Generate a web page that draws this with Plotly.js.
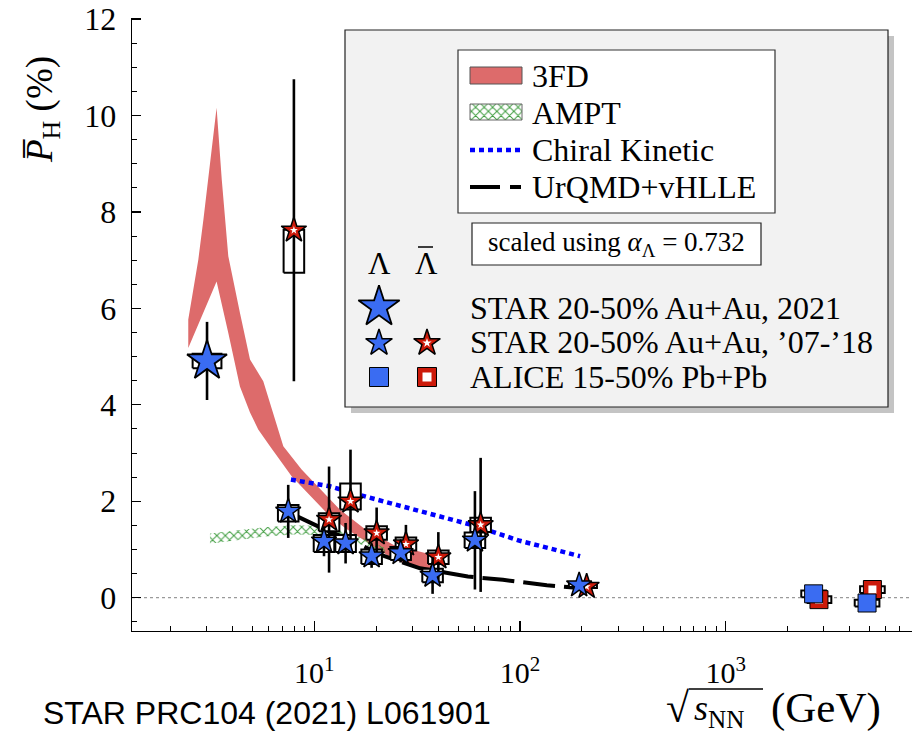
<!DOCTYPE html>
<html><head><meta charset="utf-8">
<script src="https://cdn.plot.ly/plotly-3.0.1.min.js"></script>
<style>html,body{margin:0;padding:0;background:#fff}</style>
</head><body><div id="chart" style="width:912px;height:732px"></div>
<script>
// ---------------- data ----------------
// STAR 2021 (3 GeV) Lambda
const star2021X = [3.01];
const star2021Y = [4.91];
const star2021Err = [0.81];
const star2021SysLo = [4.76];
const star2021SysHi = [5.06];
// STAR '07-'18 Lambda
const lamX = [7.47, 11.15, 14.2, 19.0, 26.3, 37.6, 60.4, 194];
const lamY = [1.79, 1.17, 1.13, 0.86, 0.93, 0.46, 1.19, 0.26];
const lamErr = [0.55, 0.31, 0.42, 0.24, 0.2, 0.38, 1.02, 0.05];
const lamSysLo = [1.58, 0.95, 0.95, 0.70, 0.78, 0.32, 1.03, 0.22];
const lamSysHi = [1.92, 1.30, 1.30, 1.00, 1.05, 0.60, 1.35, 0.30];
// STAR '07-'18 anti-Lambda
const alamX = [7.96, 11.8, 15.0, 20.1, 27.9, 40.1, 64.4, 211];
const alamY = [7.62, 1.62, 2.0, 1.34, 1.11, 0.84, 1.51, 0.23];
const alamErr = [3.13, 1.1, 1.07, 0.53, 0.4, 0.52, 1.39, 0.06];
const alamSysLo = [6.74, 1.38, 1.83, 1.20, 0.98, 0.70, 1.36, 0.20];
const alamSysHi = [7.63, 1.75, 2.37, 1.48, 1.25, 0.98, 1.66, 0.27];
// ALICE
const aliceLamX = [2677, 4870];
const aliceLamY = [0.08, -0.11];
const aliceAlamX = [2843, 5170];
const aliceAlamY = [-0.04, 0.17];
const aliceErr = [0.03, 0.03];
const aliceSys = [0.07, 0.07];
// 3FD band
const fdUpX = [2.44, 2.73, 2.89, 3.17, 3.35, 3.55, 3.82, 4.35, 4.87, 5.65, 6.21, 7.07, 8.68, 10.66, 13.3, 17.3, 24.2, 36.5];
const fdUpY = [5.77, 7.01, 7.84, 9.35, 10.16, 8.67, 7.08, 5.91, 4.94, 4.49, 3.90, 3.14, 2.66, 2.25, 1.83, 1.45, 1.10, 0.90];
const fdLoX = [2.44, 3.35, 3.82, 4.35, 4.87, 5.34, 6.09, 7.76, 9.53, 11.9, 14.4, 24.2, 36.5];
const fdLoY = [5.18, 6.56, 5.49, 4.38, 3.84, 3.49, 3.14, 2.52, 2.11, 1.69, 1.42, 0.80, 0.50];
// AMPT band
const amptX = [3.11, 4.35, 5.76, 7.88, 10.9, 14.1, 17.6, 22.1];
const amptHi = [1.33, 1.40, 1.46, 1.50, 1.49, 1.36, 1.22, 1.03];
const amptLo = [1.12, 1.20, 1.27, 1.31, 1.30, 1.20, 1.08, 0.92];
// Chiral Kinetic
const ckX = [7.7, 11.9, 17.3, 32.7, 57, 100, 196];
const ckY = [2.45, 2.31, 2.11, 1.80, 1.52, 1.18, 0.86];
// UrQMD+vHLLE
const uqX = [7.6, 11.7, 14.1, 21.6, 32.7, 55.8, 82.6, 135, 194];
const uqY = [1.76, 1.38, 1.25, 0.87, 0.61, 0.44, 0.37, 0.26, 0.20];
// ticks
const xTickVals = [10, 100, 1000];
const xTickText = ['10<sup>1</sup>', '10<sup>2</sup>', '10<sup>3</sup>'];

// ---------------- helpers ----------------
const FONT = "'Liberation Serif', serif";
const SANS = "'Liberation Sans', sans-serif";
const L = 132, T = 18, PW = 780, PH = 613;
const pxX = v => (v - L) / PW;
const pxY = v => (T + PH - v) / PH;
const BLUE = '#3a6cf2', RED = '#cc1a0a', BAND = '#dd6b6b', GREEN = '#3f9c3f';

function boxes(xs, lo, hi, hw) {
  const X = [], Y = [];
  xs.forEach((x, i) => {
    const a = x * Math.pow(10, -hw), b = x * Math.pow(10, hw);
    X.push(a, b, b, a, a, null);
    Y.push(lo[i], lo[i], hi[i], hi[i], lo[i], null);
  });
  return {X, Y};
}
const minorX = [];
[1, 10, 100, 1000].forEach(d => { for (let m = 2; m <= 9; m++) minorX.push(m * d); });

const bxLam = boxes(lamX, lamSysLo, lamSysHi, 0.05);
const bxAlam = boxes(alamX, alamSysLo, alamSysHi, 0.05);
const bx21 = boxes(star2021X, star2021SysLo, star2021SysHi, 0.07);
const bxAl1 = boxes(aliceLamX, aliceLamY.map((v,i)=>v-aliceSys[i]), aliceLamY.map((v,i)=>v+aliceSys[i]), 0.06);
const bxAl2 = boxes(aliceAlamX, aliceAlamY.map((v,i)=>v-aliceSys[i]), aliceAlamY.map((v,i)=>v+aliceSys[i]), 0.06);

const traces = [];
// 3FD band
traces.push({x: fdUpX.concat(fdLoX.slice().reverse()), y: fdUpY.concat(fdLoY.slice().reverse()),
  mode: 'lines', fill: 'toself', fillcolor: BAND, line: {width: 0, color: BAND}, hoverinfo: 'skip'});
// AMPT band
traces.push({x: amptX.concat(amptX.slice().reverse()), y: amptHi.concat(amptLo.slice().reverse()),
  mode: 'lines', fill: 'toself', fillcolor: 'rgba(255,255,255,0)',
  fillpattern: {shape: 'x', fgcolor: GREEN, bgcolor: 'rgba(255,255,255,0)', size: 6, solidity: 0.3},
  line: {width: 0, color: GREEN}});
// Chiral Kinetic
traces.push({x: ckX, y: ckY, mode: 'lines', line: {color: '#0000ff', width: 4.5, dash: '5px,4px'}});
// UrQMD
traces.push({x: uqX, y: uqY, mode: 'lines', line: {color: '#000', width: 4, dash: '32px,9px'}});
// boxes
[bx21, bxAlam, bxLam, bxAl2, bxAl1].forEach(b => traces.push({x: b.X, y: b.Y, mode: 'lines', fill: 'toself',
  fillcolor: '#fff', line: {color: '#000', width: 2}, connectgaps: false}));
// anti-Lambda stars
traces.push({x: alamX, y: alamY, mode: 'markers',
  error_y: {type: 'data', array: alamErr, color: '#000', thickness: 2.6, width: 0},
  marker: {symbol: 'star', size: 19, color: RED, line: {color: '#000', width: 1.5}}});
traces.push({x: alamX, y: alamY, mode: 'markers', marker: {symbol: 'star', size: 6, color: '#fff', line: {width: 0}}});
// Lambda stars
traces.push({x: lamX, y: lamY, mode: 'markers',
  error_y: {type: 'data', array: lamErr, color: '#000', thickness: 2.6, width: 0},
  marker: {symbol: 'star', size: 19, color: BLUE, line: {color: '#000', width: 1.5}}});
// STAR 2021
traces.push({x: star2021X, y: star2021Y, mode: 'markers',
  error_y: {type: 'data', array: star2021Err, color: '#000', thickness: 2.6, width: 0},
  marker: {symbol: 'star', size: 30, color: BLUE, line: {color: '#000', width: 1.8}}});
// ALICE
traces.push({x: aliceAlamX, y: aliceAlamY, mode: 'markers',
  error_y: {type: 'data', array: aliceErr, color: '#000', thickness: 2, width: 0},
  marker: {symbol: 'square', size: 18, color: RED, line: {color: '#000', width: 1}}});
traces.push({x: aliceAlamX, y: aliceAlamY, mode: 'markers', marker: {symbol: 'square', size: 8, color: '#fff', line: {width: 0}}});
traces.push({x: aliceLamX, y: aliceLamY, mode: 'markers',
  error_y: {type: 'data', array: aliceErr, color: '#000', thickness: 2, width: 0},
  marker: {symbol: 'square', size: 18, color: BLUE, line: {color: '#000', width: 1}}});

// ---------- legend glyphs (pixel space overlay axes) ----------
const lg = {xaxis: 'x2', yaxis: 'y2', hoverinfo: 'skip'};
traces.push(Object.assign({x: [470, 522, 522, 470, 470], y: [104, 104, 120, 120, 104], mode: 'lines', fill: 'toself',
  fillcolor: 'rgba(255,255,255,1)', fillpattern: {shape: 'x', fgcolor: GREEN, bgcolor: '#fff', size: 6, solidity: 0.3},
  line: {color: '#666', width: 1}}, lg));
traces.push(Object.assign({x: [470, 521], y: [150, 150], mode: 'lines', line: {color: '#0000ff', width: 4.5, dash: '5px,4px'}}, lg));
traces.push(Object.assign({x: [470, 521], y: [187, 187], mode: 'lines', line: {color: '#000', width: 4, dash: '30px,10px,11px,10px'}}, lg));
traces.push(Object.assign({x: [379], y: [307], mode: 'markers', marker: {symbol: 'star', size: 31, color: BLUE, line: {color: '#000', width: 1.8}}}, lg));
traces.push(Object.assign({x: [379], y: [343], mode: 'markers', marker: {symbol: 'star', size: 20, color: BLUE, line: {color: '#000', width: 1.5}}}, lg));
traces.push(Object.assign({x: [427], y: [343], mode: 'markers', marker: {symbol: 'star', size: 20, color: RED, line: {color: '#000', width: 1.5}}}, lg));
traces.push(Object.assign({x: [427], y: [343], mode: 'markers', marker: {symbol: 'star', size: 7, color: '#fff', line: {width: 0}}}, lg));
traces.push(Object.assign({x: [379], y: [377], mode: 'markers', marker: {symbol: 'square', size: 19, color: BLUE, line: {color: '#000', width: 1}}}, lg));
traces.push(Object.assign({x: [427], y: [377], mode: 'markers', marker: {symbol: 'square', size: 19, color: RED, line: {color: '#000', width: 1}}}, lg));
traces.push(Object.assign({x: [427], y: [377], mode: 'markers', marker: {symbol: 'square', size: 9, color: '#fff', line: {width: 0}}}, lg));

function rectPx(x0, y0, x1, y1, fill, line, lw, layer) {
  return {type: 'rect', xref: 'paper', yref: 'paper', x0: pxX(x0), x1: pxX(x1), y0: pxY(y0), y1: pxY(y1),
    fillcolor: fill, line: {color: line, width: lw}, layer: layer || 'below'};
}
function linePx(x0, y0, x1, y1, w) {
  return {type: 'line', xref: 'paper', yref: 'paper', x0: pxX(x0), x1: pxX(x1), y0: pxY(y0), y1: pxY(y1),
    line: {color: '#000', width: w}, layer: 'above'};
}
const shapes = [
  {type: 'line', xref: 'paper', x0: 0, x1: 1, yref: 'y', y0: 0, y1: 0, line: {color: '#9a9a9a', width: 1.2, dash: 'dot'}, layer: 'below'},
  rectPx(351, 36, 894, 413, '#c4c4c4', 'rgba(0,0,0,0)', 0),
  rectPx(345, 30, 888, 407, '#f2f2f2', '#222', 1.2),
  rectPx(458, 50, 775, 213, '#fff', '#333', 1.2),
  rectPx(472, 223, 761, 265, '#fff', '#222', 1.2),
  rectPx(470, 67, 522, 84, BAND, '#555', 1, 'above'),
  linePx(418, 247, 433, 247, 1.5),      // bar of anti-Lambda
  linePx(689, 689, 763, 689, 1.5)       // vinculum of square root
];

function ann(text, x, y, size, opts) {
  return Object.assign({text: text, xref: 'paper', yref: 'paper', x: pxX(x), y: pxY(y), showarrow: false,
    xanchor: 'left', yanchor: 'middle', font: {family: FONT, size: size, color: '#000'}}, opts || {});
}
const annotations = [
  ann('3FD', 530, 76, 32),
  ann('AMPT', 530, 113, 32),
  ann('Chiral Kinetic', 530, 150, 32),
  ann('UrQMD+vHLLE', 530, 187, 32),
  ann('scaled using <i>α</i><sub>Λ</sub> = 0.732', 616, 244, 27, {xanchor: 'center'}),
  ann('Λ', 379, 263, 31, {xanchor: 'center'}),
  ann('Λ', 426, 263, 31, {xanchor: 'center'}),
  ann('STAR 20-50% Au+Au, 2021', 468, 308, 32),
  ann('STAR 20-50% Au+Au, \u201907-\u201918', 468, 342, 32),
  ann('ALICE 15-50% Pb+Pb', 468, 377, 32),
  ann('<i>P\u0305</i><sub>H</sub> (%)', 42, 110, 37, {xanchor: 'center', textangle: -90}),
  ann('\u221A', 692, 708, 42, {xanchor: 'right'}),
  ann('<i>s</i><sub>NN</sub>', 692, 710, 36),
  ann('(GeV)', 769, 708, 43),
  ann('STAR PRC104 (2021) L061901', 41, 713, 32, {font: {family: SANS, size: 32, color: '#000'}})
];

const layout = {
  width: 912, height: 732,
  margin: {l: L, r: 0, t: T, b: 732 - T - PH},
  paper_bgcolor: '#fff', plot_bgcolor: '#fff',
  showlegend: false,
  xaxis: {type: 'log', range: [0.1138, 3.906], showgrid: false, zeroline: false,
    showline: true, linecolor: '#000', linewidth: 1.3,
    ticks: 'inside', ticklen: 10, tickwidth: 1.2, tickcolor: '#000',
    tickmode: 'array', tickvals: xTickVals, ticktext: xTickText, ticklabelstandoff: 15,
    tickfont: {family: FONT, size: 30, color: '#000'},
    minor: {ticks: 'inside', ticklen: 5, tickwidth: 1, tickcolor: '#000', tickmode: 'array', tickvals: minorX}},
  yaxis: {range: [-0.6906, 12.022], showgrid: false, zeroline: false,
    showline: true, linecolor: '#000', linewidth: 1.3,
    ticks: 'inside', ticklen: 9, tickwidth: 1.2, tickcolor: '#000', ticklabelstandoff: 8,
    tick0: 0, dtick: 2, tickfont: {family: FONT, size: 32, color: '#000'},
    minor: {ticks: 'inside', ticklen: 5, tickwidth: 1, tickcolor: '#000', dtick: 0.5}},
  xaxis2: {overlaying: 'x', range: [L, L + PW], visible: false, fixedrange: true},
  yaxis2: {overlaying: 'y', range: [T + PH, T], visible: false, fixedrange: true},
  shapes: shapes,
  annotations: annotations
};
Plotly.newPlot('chart', traces, layout, {displayModeBar: false, staticPlot: true});
</script>
</body></html>
